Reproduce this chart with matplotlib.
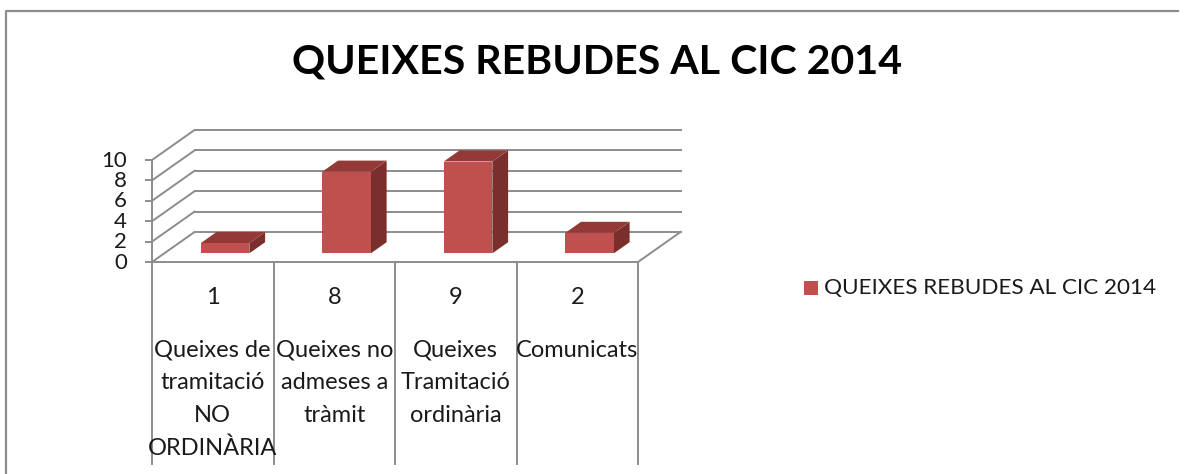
import matplotlib
matplotlib.use("Agg")
import matplotlib.pyplot as plt
from matplotlib.lines import Line2D
from matplotlib.patches import Polygon

categories = [
    "Queixes de\ntramitació\nNO\nORDINÀRIA",
    "Queixes no\nadmeses a\ntràmit",
    "Queixes\nTramitació\nordinària",
    "Comunicats",
]
values = [1, 8, 9, 2]
y_ticks = [0, 2, 4, 6, 8, 10]
title = "QUEIXES REBUDES AL CIC 2014"
series_name = "QUEIXES REBUDES AL CIC 2014"

W, H = 1184, 474
GRID = "#8c8c8c"
FRONT = "#c0504d"
TOP = "#933a38"
SIDE = "#7a2f2d"
TEXT = "#1a1a1a"

plt.rcParams["font.family"] = ["Lato", "DejaVu Sans"]

fig = plt.figure(figsize=(W / 100, H / 100), dpi=100)

# axes box = front face of the fake 3d plot, in pixels from the top left
left, right, top, bottom = 152, 638, 160, 262
ax = fig.add_axes([left / W, 1 - bottom / H, (right - left) / W, (bottom - top) / H])
ax.set_xlim(0, len(values))
ax.set_ylim(0, 10)
ax.axis("off")

# depth of the walls in data units (x = categories, y = value)
depth_x = 0.35
depth_y = 2.94
unit_y = (bottom - top) / 10


def proj(x, y, d):
    return (x + d * depth_x, y + d * depth_y)


def seg(p, q, lw=1.4):
    ax.add_line(Line2D([p[0], q[0]], [p[1], q[1]], color=GRID, lw=lw, clip_on=False, zorder=1))


# walls: side and back gridlines, floor edge
for t in y_ticks:
    seg(proj(0, t, 0), proj(0, t, 1))
    seg(proj(0, t, 1), proj(len(values), t, 1))
    seg((-0.05, t), (0, t))
seg(proj(0, 0, 0), proj(0, 10, 0))
seg(proj(0, 0, 0), proj(len(values), 0, 0))
seg(proj(len(values), 0, 0), proj(len(values), 0, 1))

# bars
bar_w = 0.4
bar_d0 = 0.29
bar_d1 = 0.66
for i, v in enumerate(values):
    x0 = i + 0.5 - bar_w / 2
    x1 = x0 + bar_w
    front = [proj(x0, 0, bar_d0), proj(x1, 0, bar_d0), proj(x1, v, bar_d0), proj(x0, v, bar_d0)]
    side = [proj(x1, 0, bar_d0), proj(x1, 0, bar_d1), proj(x1, v, bar_d1), proj(x1, v, bar_d0)]
    roof = [proj(x0, v, bar_d0), proj(x1, v, bar_d0), proj(x1, v, bar_d1), proj(x0, v, bar_d1)]
    ax.add_patch(Polygon(side, fc=SIDE, ec="none", clip_on=False, zorder=3))
    ax.add_patch(Polygon(roof, fc=TOP, ec="none", clip_on=False, zorder=3))
    ax.add_patch(Polygon(front, fc=FRONT, ec="none", clip_on=False, zorder=4))

# y tick labels
for t in y_ticks:
    ax.annotate(str(t), (0, t), xytext=(-18, -0.5), textcoords="offset points", ha="right",
                va="center", fontsize=16, color=TEXT, annotation_clip=False)

# data table under the plot
table_bottom = -(464 - bottom) / unit_y
for i in range(len(values) + 1):
    seg((i, 0), (i, table_bottom))
for i, (v, cat) in enumerate(zip(values, categories)):
    ax.text(i + 0.5, -(297 - bottom) / unit_y, str(v), ha="center", va="center",
            fontsize=17, color=TEXT)
    ax.text(i + 0.5, -(340 - bottom) / unit_y, cat, ha="center", va="top",
            fontsize=17, color=TEXT, linespacing=1.67, clip_on=False)

# title, legend, outer frame in figure pixels
fig.text(597 / W, 1 - 62 / H, title, ha="center", va="center", fontsize=29.6, weight="bold", color="black")
fig.patches.append(plt.Rectangle((804 / W, 1 - 295 / H), 14 / W, 14 / H, fc=FRONT, ec="none",
                                 transform=fig.transFigure))
fig.text(824 / W, 1 - 288 / H, series_name, ha="left", va="center", fontsize=16.2, color=TEXT)
fig.add_artist(Line2D([6 / W, 6 / W, 1178 / W], [0, 1 - 10.5 / H, 1 - 10.5 / H], color=GRID, lw=1.6,
                      transform=fig.transFigure))

fig.savefig("out.png", dpi=100)
